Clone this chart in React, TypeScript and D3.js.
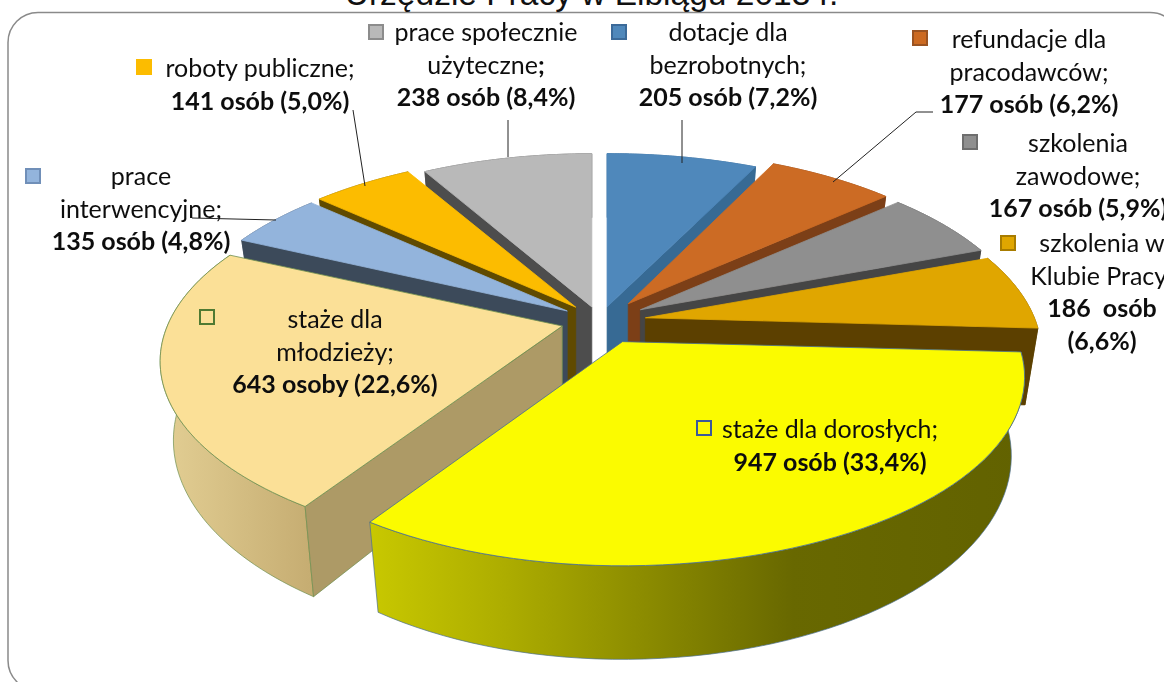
import { useEffect, useRef } from 'react';
import * as d3 from 'd3';

// chart values
const categories = [
  'dotacje dla bezrobotnych',
  'refundacje dla pracodawców',
  'szkolenia zawodowe',
  'szkolenia w Klubie Pracy',
  'staże dla dorosłych',
  'staże dla młodzieży',
  'prace interwencyjne',
  'roboty publiczne',
  'prace społecznie użyteczne',
];
const persons = [205, 177, 167, 186, 947, 643, 135, 141, 238];
const nameLines = [
  ['dotacje dla', 'bezrobotnych;'],
  ['refundacje dla', 'pracodawców;'],
  ['szkolenia', 'zawodowe;'],
  ['szkolenia w', 'Klubie Pracy;'],
  ['staże dla dorosłych;'],
  ['staże dla', 'młodzieży;'],
  ['prace', 'interwencyjne;'],
  ['roboty publiczne;'],
  ['prace społecznie', 'użyteczne;'],
];
const valueLines = [
  ['205 osób (7,2%)'],
  ['177 osób (6,2%)'],
  ['167 osób (5,9%)'],
  ['186  osób', '(6,6%)'],
  ['947 osób (33,4%)'],
  ['643 osoby (22,6%)'],
  ['135 osób (4,8%)'],
  ['141 osób (5,0%)'],
  ['238 osób (8,4%)'],
];
const titleText = 'Urzędzie Pracy w Elblągu 2013 r.';

// slice styling
const topColors = ['#4f88bb', '#cc6b24', '#8f8f8f', '#e0a600', '#fbfb00', '#fbe097', '#93b4dc', '#fcbc00', '#b9b9b9'];
const wallColors = ['#376a94', '#7c3f17', '#454545', '#5c4000', '#666600', '#ad9a66', '#3c4a5a', '#604a00', '#4d4d4d'];
const keyStrokes = ['#3a6b99', '#9a5220', '#6e6e6e', '#a87c00', '#3a5a9a', '#4f7a30', '#6f8fb8', '#fcbc00', '#8c8c8c'];

// slice geometry: how far each one is pulled out, and its horizontal reach left / right
const explode = [0.08, 0.119, 0.12, 0.117, 0.127, 0.1, 0.1, 0.098, 0.08];
const reachLeft = [388, 388, 388, 388, 388, 395, 387, 388, 386];
const reachRight = [396, 387, 387, 389, 395, 395, 388, 388, 388];

// label layout: centre x, first baseline, key x, key y
const labelLayout = [
  { x: 728, y: 41, keyX: 612, keyY: 25 },
  { x: 1029, y: 48, keyX: 913, keyY: 31 },
  { x: 1078, y: 152, keyX: 963, keyY: 135 },
  { x: 1102, y: 252, keyX: 1001, keyY: 236 },
  { x: 830, y: 438, keyX: 697, keyY: 421 },
  { x: 335, y: 328, keyX: 200, keyY: 310 },
  { x: 141, y: 185, keyX: 26, keyY: 169 },
  { x: 260, y: 77, keyX: 137, keyY: 60 },
  { x: 486, y: 41, keyX: 369, keyY: 25 },
];

const width = 1164;
const height = 682;
const cx = 600;
const cy = 321;
const ry = 182;
const tilt = 0.188;
const baseDepth = 76;
const bottomShrink = 0.967;
const backTuck = 8;

function project(i: number, angle: number, radius: number, offX: number, offY: number, lower: boolean): [number, number] {
  const u = Math.sin(angle) * radius;
  const v = -Math.cos(angle) * radius;
  const scale = 1 / (1 - tilt * v);
  let x = u * (u < 0 ? reachLeft[i] : reachRight[i]) * scale;
  let y = v * ry * scale;
  if (lower) {
    x = x * bottomShrink;
    y = y + baseDepth * scale;
  }
  return [cx + offX + x, cy + offY + y];
}

// a radial wall shows only when the slice's top lies above that edge on screen
function wallVisible(apex: [number, number], edge: [number, number], other: [number, number]) {
  const dx = edge[0] - apex[0];
  if (Math.abs(dx) < 0.001) return false;
  const yOnEdge = apex[1] + (edge[1] - apex[1]) / dx * (other[0] - apex[0]);
  return yOnEdge > other[1];
}

export default function App() {
  const ref = useRef<SVGSVGElement>(null);

  useEffect(() => {
    const svg = d3.select(ref.current);
    svg.selectAll('*').remove();

    const defs = svg.append('defs');
    const yellowGrad = defs.append('linearGradient').attr('id', 'yellow-wall')
      .attr('gradientUnits', 'userSpaceOnUse').attr('x1', 370).attr('x2', 1020).attr('y1', 0).attr('y2', 0);
    [[0, '#c8c800'], [0.2, '#aeae00'], [0.65, '#686800'], [1, '#626200']].forEach((s) => {
      yellowGrad.append('stop').attr('offset', s[0]).attr('stop-color', s[1]);
    });
    const youthGrad = defs.append('linearGradient').attr('id', 'youth-wall')
      .attr('gradientUnits', 'userSpaceOnUse').attr('x1', 160).attr('x2', 310).attr('y1', 0).attr('y2', 0);
    [[0, '#e3cf94'], [1, '#c6ad72']].forEach((s) => {
      youthGrad.append('stop').attr('offset', s[0]).attr('stop-color', s[1]);
    });
    // the original is a slightly soft screenshot
    defs.append('filter').attr('id', 'soft').append('feGaussianBlur').attr('stdDeviation', 0.4);

    // frame and clipped title
    svg.append('rect').attr('x', 8).attr('y', 12.5).attr('width', 1172).attr('height', 678).attr('rx', 30)
      .attr('fill', 'white').attr('stroke', '#8a8a8a').attr('stroke-width', 1.5);
    svg.append('text').attr('x', 591.5).attr('y', 5).attr('text-anchor', 'middle')
      .attr('font-family', 'Liberation Sans').attr('font-size', 33.5).attr('fill', '#111').text(titleText);

    const pie = d3.pie<number>().sort(null).value((d) => d);
    const arcs = pie(persons);
    const line = d3.line();

    const slices = arcs.map((a, i) => {
      const mid = (a.startAngle + a.endAngle) / 2;
      const offX = explode[i] * Math.sin(mid) * 392;
      const offY = -explode[i] * Math.cos(mid) * ry;
      const angles = d3.range(0, 61).map((k) => a.startAngle + (a.endAngle - a.startAngle) * k / 60);
      const rim = (lower: boolean) => angles.map((t) => project(i, t, 1, offX, offY, lower));
      const apex = project(i, 0, 0, offX, offY, false);
      const apexLow = project(i, 0, 0, offX, offY, true);
      // back slices run down behind the yellow one
      if (i !== 4 && i !== 5) apexLow[1] += backTuck;
      return { i, a, mid, rim, apex, apexLow };
    });

    const pieGroup = svg.append('g');
    // back slices first, then the two large front ones
    const order = [8, 0, 7, 1, 6, 2, 3, 5, 4];
    order.forEach((i) => {
      const s = slices[i];
      const g = pieGroup.append('g').attr('class', 'slice').attr('data-name', categories[i]);
      const top = s.rim(false);
      const low = s.rim(true);
      const last = top.length - 1;
      const outline = i === 4 ? '#4a6f8f' : i === 5 ? '#6f8f4f' : null;
      const wallFill = i === 4 ? 'url(#yellow-wall)' : i === 5 ? 'url(#youth-wall)' : wallColors[i];

      // outer rim
      g.append('path')
        .attr('d', line(top.concat(low.slice().reverse())) + 'Z')
        .attr('fill', wallFill).attr('stroke', outline ?? wallColors[i]).attr('stroke-width', 0.7);
      // radial walls facing the viewer
      if (wallVisible(s.apex, top[0], top[last])) {
        g.append('path')
          .attr('d', line([s.apex, top[0], low[0], s.apexLow]) + 'Z')
          .attr('fill', wallColors[i]).attr('stroke', outline ?? wallColors[i]).attr('stroke-width', 0.7);
      }
      if (wallVisible(s.apex, top[last], top[0])) {
        g.append('path')
          .attr('d', line([s.apex, top[last], low[last], s.apexLow]) + 'Z')
          .attr('fill', wallColors[i]).attr('stroke', outline ?? wallColors[i]).attr('stroke-width', 0.7);
      }
      // top face
      g.append('path')
        .attr('d', line([s.apex, ...top]) + 'Z')
        .attr('fill', topColors[i]).attr('stroke', outline ?? topColors[i]).attr('stroke-width', 0.8);
    });

    // leader lines
    const leaders: [number, number][][] = [
      [[682, 120], [682, 163]],
      [[933, 112], [916, 112], [833, 182]],
      [[353, 110], [365, 186]],
      [[508, 120], [508, 157]],
      [[192, 218], [276, 220]],
    ];
    leaders.forEach((pts) => {
      svg.append('path').attr('d', line(pts)).attr('fill', 'none').attr('stroke', '#222').attr('stroke-width', 1);
    });

    // labels
    const labels = svg.append('g').attr('font-family', 'Lato').attr('font-size', 25).attr('fill', '#111')
      .attr('filter', 'url(#soft)');
    const lineStep = 32.5;
    arcs.forEach((_, i) => {
      const p = labelLayout[i];
      labels.append('rect').attr('x', p.keyX).attr('y', p.keyY).attr('width', 14).attr('height', 14)
        .attr('fill', i === 4 || i === 5 ? 'none' : topColors[i]).attr('stroke', keyStrokes[i]).attr('stroke-width', 2);
      const all = nameLines[i].map((t) => ({ t, bold: false })).concat(valueLines[i].map((t) => ({ t, bold: true })));
      all.forEach((l, k) => {
        const text = labels.append('text').attr('x', p.x).attr('y', p.y + k * lineStep).attr('text-anchor', 'middle')
          .attr('xml:space', 'preserve').style('white-space', 'pre')
          .attr('font-weight', l.bold ? 700 : 400);
        // the semicolon after "użyteczne" is bold in the original
        if (i === 8 && k === 1) {
          text.append('tspan').text(l.t.slice(0, -1));
          text.append('tspan').attr('font-weight', 700).text(';');
        } else {
          text.text(l.t);
        }
      });
    });
  }, []);

  return <svg ref={ref} width={width} height={height} style={{ display: 'block', position: 'absolute', left: 0, top: 0, overflow: 'hidden' }} />;
}
